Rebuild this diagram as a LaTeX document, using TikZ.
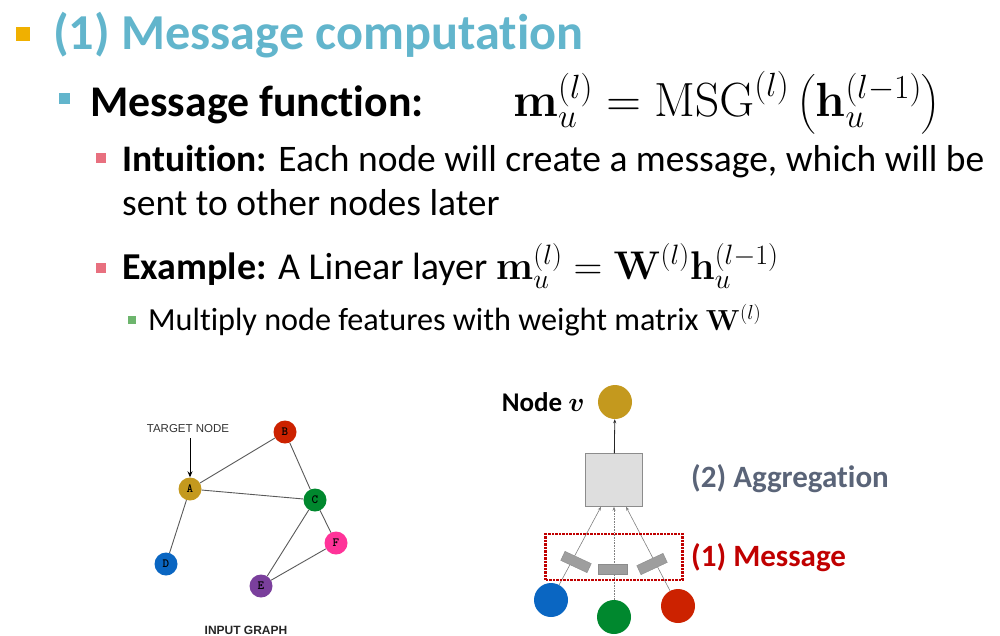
\RequirePackage{fix-cm}
\documentclass[tikz,border=0pt]{standalone}
\usepackage{amsmath}
\usepackage[no-math]{fontspec}
\setmainfont{Carlito}[Ligatures=NoCommon]
\newfontfamily\graphfont{Liberation Sans}
\usepackage{tikz}
\usetikzlibrary{arrows.meta, positioning, calc}
\definecolor{titleblue}{HTML}{62B5CC}
\definecolor{bulorange}{HTML}{F0B000}
\definecolor{bulpink}{HTML}{E8707F}
\definecolor{bulgreen}{HTML}{6DB56D}
\definecolor{aggslate}{HTML}{5A6478}
\definecolor{msgred}{HTML}{C00000}
\definecolor{ngold}{HTML}{C4991E}
\definecolor{nred}{HTML}{CC2200}
\definecolor{ngreen}{HTML}{00882E}
\definecolor{nblue}{HTML}{0A66C2}
\definecolor{npurple}{HTML}{7A3F9C}
\definecolor{npink}{HTML}{FF3399}
\tikzstyle{bullet} = [rectangle, inner sep=0pt]
\tikzstyle{line} = [anchor=base west, inner sep=0pt]
\tikzstyle{gnode} = [circle,
minimum size=23pt,
inner sep=0pt,
font=\ttfamily\bfseries\fontsize{12.5}{12}\selectfont]
\tikzstyle{edge} = [draw=black!65, line width=0.9pt]
\tikzstyle{bignode} = [circle, minimum size=34pt, inner sep=0pt]
\tikzstyle{msgbox} = [rectangle,
draw=black!45, fill=black!38,
minimum width=29pt, minimum height=10pt,
inner sep=0pt]
\tikzstyle{flow} = [black!50, line width=0.6pt, -{Stealth[length=4pt,width=3pt]}]
\begin{document}
\begin{tikzpicture}[x=1pt, y=-1pt]
\useasboundingbox (0,0) rectangle (1000,635);

% bullet points
\node (b1) [bullet, fill=bulorange, minimum size=14pt] at (23,34) {};
\node (t1) [line, text=titleblue, font=\bfseries\fontsize{50.3}{54}\selectfont] at (53,49) {(1) Message computation};
\node (b2) [bullet, fill=titleblue, minimum size=11pt] at (64,98) {};
\node (t2) [line, font=\bfseries\fontsize{43.8}{50}\selectfont] at (90,116) {Message function:};
\node (f2) [line, font=\fontsize{48}{50}\selectfont] at (513,116)
  {$\mathbf{m}_u^{(l)} = \mathrm{MSG}^{(l)}\left(\mathbf{h}_u^{(l-1)}\right)$};
\node (b3) [bullet, fill=bulpink, minimum size=10pt] at (101,158) {};
\node (t3) [line, font=\fontsize{37.5}{44}\selectfont] at (122,171) {\textbf{Intuition:} Each node will create a message, which will be};
\node (t3b) [line, font=\fontsize{37.5}{44}\selectfont] at (122,215) {sent to other nodes later};
\node (b4) [bullet, fill=bulpink, minimum size=10pt] at (101,268) {};
\node (t4) [line, font=\fontsize{38}{44}\selectfont] at (122,279)
  {\textbf{Example:} A Linear layer {\fontsize{40}{44}\selectfont$\mathbf{m}_u^{(l)} = \mathbf{W}^{(l)}\mathbf{h}_u^{(l-1)}$}};
\node (b5) [bullet, fill=bulgreen, minimum size=8pt] at (132,320) {};
\node (t5) [line, font=\fontsize{32.2}{36}\selectfont] at (148,330)
  {Multiply node features with weight matrix {\fontsize{29}{30}\selectfont$\mathbf{W}^{(l)}$}};

% input graph
\node (A) [gnode, fill=ngold] at (190,489) {A};
\node (B) [gnode, fill=nred] at (285,432) {B};
\node (C) [gnode, fill=ngreen] at (315,500) {C};
\node (D) [gnode, fill=nblue] at (166,564) {D};
\node (E) [gnode, fill=npurple] at (261,586) {E};
\node (F) [gnode, fill=npink] at (336,543) {F};
\draw [edge] (A) -- (B);
\draw [edge] (A) -- (C);
\draw [edge] (A) -- (D);
\draw [edge] (B) -- (C);
\draw [edge] (C) -- (E);
\draw [edge] (C) -- (F);
\draw [edge] (E) -- (F);
\node (target) [font=\graphfont\fontsize{11.5}{12}\selectfont, text=black!80, inner sep=0pt] at (188,429) {TARGET NODE};
\draw [line width=0.8pt, -{Stealth[length=6pt,width=5pt]}] (target.south -| A) ++(0,5) -- (A.north);
\node (ingraph) [font=\graphfont\bfseries\fontsize{12}{12}\selectfont, text=black!85, inner sep=0pt] at (246,630) {INPUT GRAPH};

% message and aggregation
\node (v) [bignode, fill=ngold] at (615,402) {};
\node (nodev) [left=13pt of v, inner sep=0pt, font=\bfseries\fontsize{27}{30}\selectfont] {Node $\boldsymbol{v}$};
\node (agg) [rectangle, draw=black!45, fill=black!13, minimum width=57pt, minimum height=53pt, inner sep=0pt] at (614,480) {};
\draw [black!85, line width=0.8pt, -{Stealth[length=4pt,width=3pt]}] (agg) -- (v);
\node (u1) [bignode, fill=nblue] at (551,600) {};
\node (u2) [bignode, fill=ngreen] at (614,617) {};
\node (u3) [bignode, fill=nred] at (678,606) {};
\coordinate (in1) at ($(agg.south)+(-13,0)$);
\coordinate (in2) at (agg.south);
\coordinate (in3) at ($(agg.south)+(12,0)$);
\draw [flow] (u1) -- (in1);
\draw [flow, densely dotted] (u2) -- (in2);
\draw [flow] (u3) -- (in3);
\node (m1) [msgbox, rotate=-25] at (576,562) {};
\node (m2) [msgbox] at (613,569) {};
\node (m3) [msgbox, rotate=25] at (652,564) {};
\node (frame) [draw=msgred, densely dotted, line width=2.5pt, minimum width=137pt, minimum height=46pt, inner sep=0pt] at (614,557) {};
\node (aggtext) [line, text=aggslate, font=\bfseries\fontsize{31}{34}\selectfont] at (691,487) {(2) Aggregation};
\node (msgtext) [line, text=msgred, font=\bfseries\fontsize{31}{34}\selectfont] at (691,566) {(1) Message};
\end{tikzpicture}
\end{document}
